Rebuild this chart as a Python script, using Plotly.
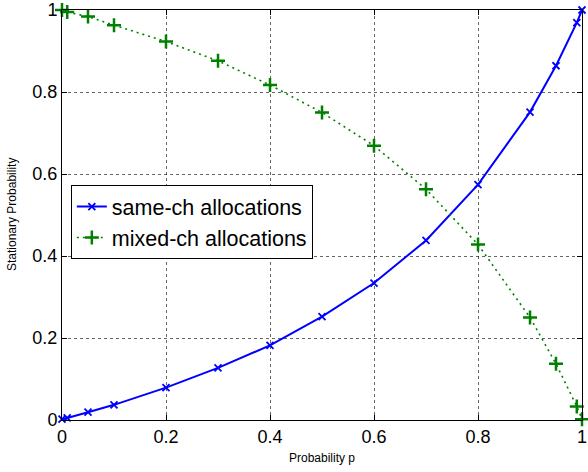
import plotly.graph_objects as go

p = [0, 0.01, 0.05, 0.1, 0.2, 0.3, 0.4, 0.5, 0.6, 0.7, 0.8, 0.9, 0.95, 0.99, 1]
same_ch = [0.002, 0.005, 0.019, 0.037, 0.079, 0.127, 0.182, 0.252, 0.334, 0.438, 0.574, 0.751, 0.864, 0.969, 1.0]
mixed_ch = [1.0, 0.995, 0.984, 0.963, 0.923, 0.876, 0.817, 0.75, 0.669, 0.563, 0.428, 0.25, 0.137, 0.033, 0.002]

xticks = [0, 0.2, 0.4, 0.6, 0.8, 1]
xtick_labels = ["0", "0.2", "0.4", "0.6", "0.8", "1"]
yticks = [0, 0.2, 0.4, 0.6, 0.8, 1]
ytick_labels = ["0", "0.2", "0.4", "0.6", "0.8", "1"]
x_title = "Probability p"
y_title = "Stationary Probability"

FONT = "Liberation Sans, Arial, sans-serif"

fig = go.Figure()
fig.add_trace(go.Scatter(
    x=p, y=same_ch, mode="lines+markers", name="same-ch allocations",
    line=dict(color="#0000ff", width=2),
    marker=dict(symbol="x-thin", size=7, line=dict(color="#0000ff", width=1.8)),
    cliponaxis=False,
))
fig.add_trace(go.Scatter(
    x=p, y=mixed_ch, mode="lines+markers", name="mixed-ch allocations",
    line=dict(color="#008000", width=1.6, dash="2px,4px"),
    marker=dict(symbol="cross-thin", size=10, line=dict(color="#008000", width=2.5)),
    cliponaxis=False,
))

axis_common = dict(
    showline=True, linecolor="black", linewidth=1, mirror="ticks",
    ticks="inside", ticklen=5, tickcolor="black",
    showgrid=True, gridcolor="rgba(0,0,0,0.6)", griddash="dot", gridwidth=1,
    zeroline=False, automargin=False,
    tickfont=dict(family=FONT, size=18, color="black"),
)

fig.update_layout(
    width=588, height=472,
    margin=dict(l=62, r=6, t=10, b=52),
    paper_bgcolor="white", plot_bgcolor="white",
    showlegend=True,
    legend=dict(
        x=0.017, y=0.573, xanchor="left", yanchor="top",
        bgcolor="white", bordercolor="black", borderwidth=1,
        font=dict(family=FONT, size=21.5, color="black"),
        tracegroupgap=0,
    ),
    xaxis=dict(range=[0, 1], tickvals=xticks, ticktext=xtick_labels, **axis_common),
    yaxis=dict(range=[0, 1], tickvals=yticks, ticktext=ytick_labels, **axis_common),
    annotations=[
        dict(text=x_title, xref="paper", yref="paper", x=0.5, y=0,
             xanchor="center", yanchor="middle", yshift=-38, showarrow=False,
             font=dict(family=FONT, size=12, color="black")),
        dict(text=y_title, xref="paper", yref="paper", x=0, y=0.5,
             xanchor="center", yanchor="middle", xshift=-50, textangle=-90, showarrow=False,
             font=dict(family=FONT, size=12, color="black")),
    ],
)

fig.write_html(
    "out.html",
    config={"displayModeBar": False},
    post_script="document.body.style.margin='0';document.body.style.overflow='hidden';",
)
